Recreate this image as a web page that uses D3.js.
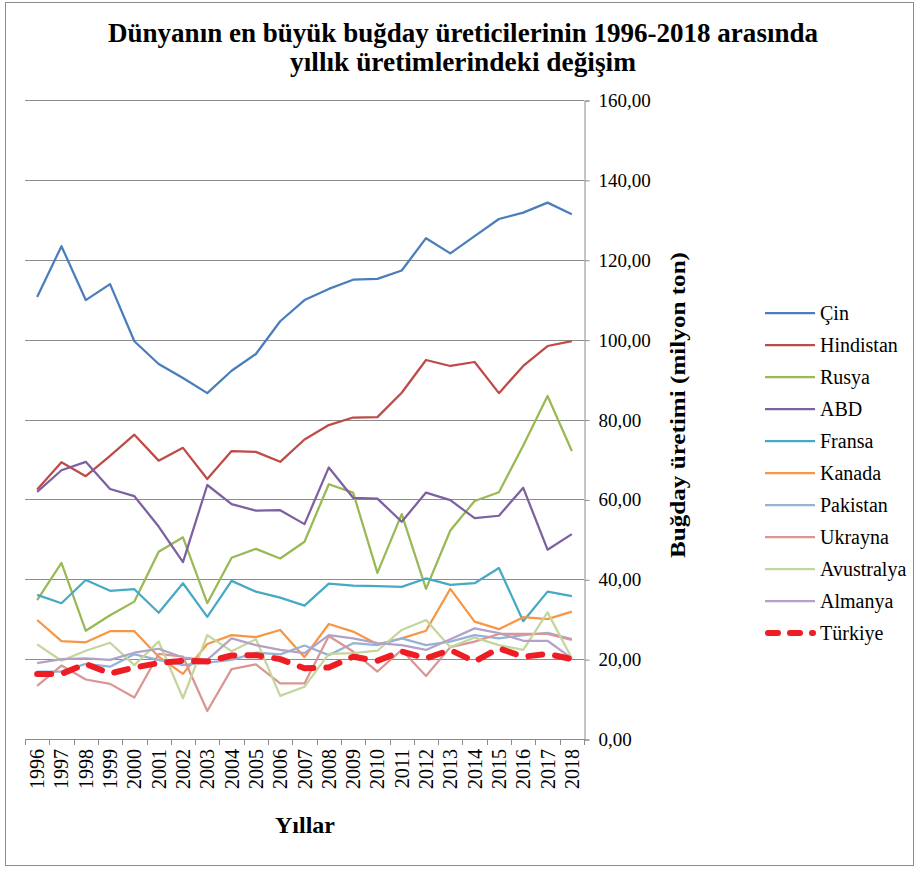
<!DOCTYPE html>
<html>
<head>
<meta charset="utf-8">
<script src="https://cdn.jsdelivr.net/npm/d3@7"></script>
<style>
  body { margin: 0; background: #fff; }
  svg text { font-family: "Liberation Serif", "Times New Roman", serif !important; fill: #000; }
</style>
</head>
<body>
<div id="chart"></div>
<script>
const years = d3.range(1996, 2019).map(String);

const cin        = [110.7,123.4,109.9,113.9,99.6,93.9,90.4,86.6,92.2,96.4,104.6,109.9,112.7,115.0,115.2,117.3,125.4,121.6,125.9,130.2,131.8,134.3,131.4];
const hindistan  = [62.5,69.3,65.8,70.9,76.2,69.7,72.9,65.1,72.1,71.9,69.4,75.0,78.6,80.5,80.6,86.7,94.9,93.4,94.4,86.6,93.4,98.4,99.6];
const rusya      = [34.8,44.1,27.1,31.0,34.4,46.9,50.5,34.0,45.4,47.6,45.2,49.4,63.8,61.7,41.6,56.3,37.6,52.2,59.6,61.8,73.5,85.9,72.1];
const abd        = [61.9,67.3,69.4,62.6,60.8,53.2,44.3,63.6,58.8,57.2,57.3,53.8,68.0,60.4,60.2,54.4,61.7,59.8,55.3,55.9,62.9,47.4,51.3];
const fransa     = [36.1,34.0,39.8,37.1,37.5,31.6,39.0,30.6,39.6,36.9,35.4,33.4,38.9,38.4,38.3,38.1,40.2,38.6,39.0,42.8,29.5,36.9,35.8];
const kanada     = [29.8,24.5,24.2,27.0,27.0,20.6,16.3,23.8,26.0,25.5,27.3,20.5,28.8,26.9,23.7,25.2,27.1,37.6,29.4,27.5,30.5,30.0,31.9];
const pakistan   = [16.9,16.9,18.8,18.1,21.2,19.8,18.5,19.1,19.8,21.6,21.2,23.4,21.0,24.0,23.5,25.2,23.5,24.4,26.0,25.2,26.0,26.6,25.0];
const ukrayna    = [13.3,18.4,14.9,13.8,10.4,21.3,20.6,7.0,17.5,18.7,13.9,13.9,25.8,21.9,16.9,22.3,15.8,23.0,24.4,26.3,26.3,26.3,24.8];
const avustralya = [23.7,19.6,22.1,24.1,18.5,24.4,10.2,26.0,22.0,25.0,10.8,13.1,21.3,21.5,22.1,27.3,29.8,23.0,25.4,23.5,22.3,31.7,20.2];
const almanya    = [19.0,20.0,20.2,19.8,21.6,22.6,20.4,19.8,25.2,23.5,22.3,21.5,26.0,25.2,24.0,23.5,22.3,25.0,27.7,26.5,24.6,24.6,20.2];
const turkiye    = [16.3,16.3,18.8,16.4,17.9,19.0,19.6,19.4,20.9,21.0,20.0,17.7,17.9,20.6,19.6,21.9,20.2,22.3,19.4,22.7,20.6,21.3,20.0];

const seriesNames = ["Çin","Hindistan","Rusya","ABD","Fransa","Kanada","Pakistan","Ukrayna","Avustralya","Almanya","Türkiye"];
const seriesValues = [cin,hindistan,rusya,abd,fransa,kanada,pakistan,ukrayna,avustralya,almanya,turkiye];
const colors = ["#4a7ebb","#be4b48","#98b954","#7d60a0","#46aac5","#f79646","#95b3d7","#d99694","#c3d69b","#b3a2c7","#ee1d23"];
const yTicks = d3.range(0, 161, 20);

const serif = "'Liberation Serif', 'Times New Roman', serif";
const width = 919, height = 869;
const svg = d3.create("svg")
    .attr("width", width)
    .attr("height", height)
    .style("font-family", serif);

// outer frame
svg.append("rect")
    .attr("x", 5.5).attr("y", 2.5)
    .attr("width", 908).attr("height", 863)
    .attr("fill", "#fff")
    .attr("stroke", "#8c8c8c");

const x = d3.scaleBand().domain(years).range([25, 584]);
const y = d3.scaleLinear().domain([0, 160]).range([739, 100]);
const cx = d => x(d) + x.bandwidth() / 2;

// gridlines
svg.append("g")
    .selectAll("line")
    .data(yTicks.filter(d => d > 0))
    .enter().append("line")
    .attr("x1", 25).attr("x2", 584)
    .attr("y1", d => Math.round(y(d)) + 0.5)
    .attr("y2", d => Math.round(y(d)) + 0.5)
    .attr("stroke", "#8c8c8c");

// right axis
const yAxis = svg.append("g")
    .attr("transform", "translate(584.5,0.5)")
    .call(d3.axisRight(y)
        .tickValues(yTicks)
        .tickSize(5)
        .tickPadding(9)
        .tickFormat(d => d3.format(".2f")(d).replace(".", ",")));
yAxis.attr("font-family", serif);
yAxis.select(".domain").attr("stroke", "#8c8c8c");
yAxis.selectAll(".tick line").attr("stroke", "#8c8c8c");
yAxis.selectAll("text")
    .style("font-family", serif)
    .style("font-size", "19px")
    .attr("fill", "#000");

// bottom axis (ticks between categories)
svg.append("line")
    .attr("x1", 25).attr("x2", 584)
    .attr("y1", 739.5).attr("y2", 739.5)
    .attr("stroke", "#8c8c8c");
svg.append("g")
    .selectAll("line")
    .data(years.concat(["end"]))
    .enter().append("line")
    .attr("x1", (d, i) => Math.round(25 + i * x.bandwidth()) + 0.5)
    .attr("x2", (d, i) => Math.round(25 + i * x.bandwidth()) + 0.5)
    .attr("y1", 739).attr("y2", 745)
    .attr("stroke", "#8c8c8c");
svg.append("g")
    .selectAll("text")
    .data(years)
    .enter().append("text")
    .attr("transform", d => `translate(${cx(d) + 7},749) rotate(-90)`)
    .attr("text-anchor", "end")
    .style("font-family", serif)
    .style("font-size", "20px")
    .text(d => d);

// lines
const line = d3.line()
    .x((d, i) => cx(years[i]))
    .y(d => y(d));

svg.append("g")
    .selectAll("path")
    .data(seriesValues)
    .enter().append("path")
    .attr("d", d => line(d))
    .attr("fill", "none")
    .attr("stroke", (d, i) => colors[i])
    .attr("stroke-width", (d, i) => i === 10 ? 6 : 2.25)
    .attr("stroke-dasharray", (d, i) => i === 10 ? "14 13" : null)
    .attr("stroke-linecap", (d, i) => i === 10 ? "round" : "butt")
    .attr("stroke-linejoin", "round");

// legend
const legend = svg.append("g")
    .selectAll("g")
    .data(seriesNames)
    .enter().append("g")
    .attr("transform", (d, i) => `translate(0,${313 + i * 32})`);
legend.append("line")
    .attr("x1", (d, i) => i === 10 ? 768 : 765)
    .attr("x2", (d, i) => i === 10 ? 813 : 815)
    .attr("stroke", (d, i) => colors[i])
    .attr("stroke-width", (d, i) => i === 10 ? 6 : 2.25)
    .attr("stroke-dasharray", (d, i) => i === 10 ? "10 12" : null)
    .attr("stroke-linecap", (d, i) => i === 10 ? "round" : "butt");
legend.append("text")
    .attr("x", 820)
    .attr("y", 7)
    .style("font-family", serif)
    .style("font-size", "20px")
    .text(d => d);

// titles
svg.append("text")
    .attr("x", 463).attr("y", 42)
    .attr("text-anchor", "middle")
    .attr("textLength", 710)
    .attr("lengthAdjust", "spacingAndGlyphs")
    .style("font-family", serif)
    .style("font-size", "28px")
    .style("font-weight", "bold")
    .text("Dünyanın en büyük buğday üreticilerinin 1996-2018 arasında");
svg.append("text")
    .attr("x", 463).attr("y", 71)
    .attr("text-anchor", "middle")
    .attr("textLength", 346)
    .attr("lengthAdjust", "spacingAndGlyphs")
    .style("font-family", serif)
    .style("font-size", "28px")
    .style("font-weight", "bold")
    .text("yıllık üretimlerindeki değişim");

svg.append("text")
    .attr("x", 305).attr("y", 833)
    .attr("text-anchor", "middle")
    .style("font-family", serif)
    .style("font-size", "24px")
    .style("font-weight", "bold")
    .text("Yıllar");

svg.append("text")
    .attr("transform", "translate(685,405) rotate(-90)")
    .attr("text-anchor", "middle")
    .attr("textLength", 306)
    .attr("lengthAdjust", "spacingAndGlyphs")
    .style("font-family", serif)
    .style("font-size", "21px")
    .style("font-weight", "bold")
    .text("Buğday üretimi (milyon ton)");

document.getElementById("chart").appendChild(svg.node());
</script>
</body>
</html>
